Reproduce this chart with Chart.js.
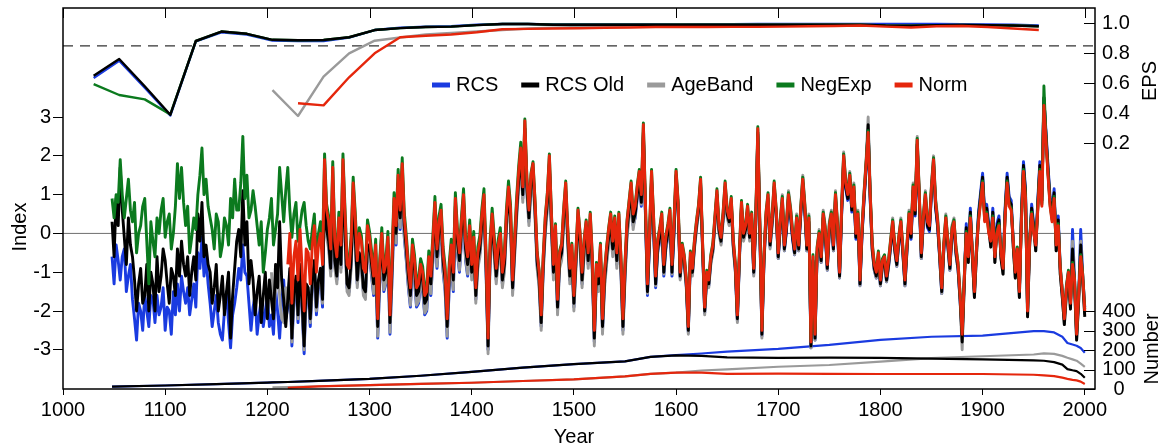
<!DOCTYPE html>
<html>
<head>
<meta charset="utf-8">
<script src="https://cdn.jsdelivr.net/npm/chart.js@4.4.0/dist/chart.umd.min.js"></script>
<style>
  html, body { margin: 0; padding: 0; background: #fff; }
  #wrap { width: 1165px; height: 448px; }
</style>
</head>
<body>
<div id="wrap"><canvas id="chrono" width="1165" height="448"></canvas></div>
<script>
// ---- data ----
const yearTicks = [1000, 1100, 1200, 1300, 1400, 1500, 1600, 1700, 1800, 1900, 2000];
const indexTicks = [-3, -2, -1, 0, 1, 2, 3];
const epsTicks = [0.2, 0.4, 0.6, 0.8, 1.0];
const numberTicks = [0, 100, 200, 300, 400];
const epsThreshold = 0.85;

// index chronologies, one value every 2 years
const indexStep = 2;
const rcsStart = 1048, rcsOldStart = 1048, negExpStart = 1048, ageBandStart = 1204, normStart = 1220;

const rcsIndex = [
  -0.6, -1.3, -0.3, -0.7, -1.2, -0.6, -0.4, -1.5, -1.1, -0.8,
  -1.7, -2.2, -2.75, -1.8, -2.0, -2.5, -1.6, -2.0, -2.4, -1.6,
  -1.7, -2.3, -1.6, -2.1, -1.9, -1.4, -2.5, -1.9, -2.0, -2.6,
  -1.5, -2.1, -1.3, -2.0, -1.1, -1.5, -1.8, -1.4, -2.1, -1.7,
  -1.3, -1.9, -0.5, -0.9, -0.1, -1.1, -0.6, -1.3, -1.8, -2.4,
  -2.0, -1.6, -2.3, -2.6, -2.75, -2.0, -1.5, -2.3, -2.95, -2.1,
  -1.8, -1.4, -0.9, -1.2, -0.3, -1.0, -1.1, -1.8, -2.5, -1.9,
  -1.6, -2.6, -2.1, -1.7, -2.4, -2.0, -1.6, -2.4, -2.1, -2.6,
  -1.4, -2.0, -2.7, -1.8, -1.2, -2.2,
  -1.9, -1.1, -2.9, -1.7, -1.3, -2.3, -1.0, -2.0, -3.1, -1.5,
  -1.6, -2.4, -1.4, -0.9, -2.1, -1.4, -1.1, -1.9, 1.3, 0.0,
  -0.3, -1.0, 1.1, -0.8, -1.2, -0.2, -0.9, 1.3, -0.1, -1.4,
  -1.5, -0.8, 0.7, -0.2, -1.3, -0.6, -0.8, -1.5, -1.6, -0.4,
  -0.6, -1.1, -1.6, -0.8, -2.7, -1.3, -0.5, -1.5, -1.3, -0.6,
  -2.6, -1.2, 0.4, -0.3, 1.0, 0.1, 1.3, -0.1, -0.7, -1.4,
  -1.9, -0.8, -1.2, -1.9, -1.8, -1.3, -1.5, -2.1, -2.0, -1.1,
  -1.6, -0.7, 0.3, -0.9, -0.2, 0.1, -1.0, -1.5, -2.7, -1.4,
  -0.8, -1.5, 0.4, -0.5, -1.0, -0.2, 0.5, -0.7, -1.1, -0.3,
  -1.1, -0.4, -1.7, -0.8, -0.5, 0.2, 0.7, -0.9, -3.0, -0.6,
  0.2, -0.5, -1.2, -0.6, -0.3, -1.3, -0.9, 0.2, 0.9, 0.3,
  -1.5, -0.5, 0.5, 1.3, 1.9, 0.9, 2.6, 1.1, 0.3, 1.2,
  1.5, 0.5, -0.8, -1.3, -2.4, -0.9, 0.1, 0.7, 1.7, 0.2,
  -1.1, -0.1, -2.0, -0.8, -0.6, 0.3, 1.0, -0.2, -1.2, -0.6,
  -1.9, -0.8, 0.3, -0.3, -1.3, -0.5, 0.0, -0.8, 0.2, -0.9,
  -2.8, -1.1, -1.4, -0.6, -2.5, -1.3, -0.7, -0.2, 0.2, -0.5,
  0.1, -0.8, 0.2, -0.9, -2.5, -1.1, 0.0, 0.5, 1.0, 0.2,
  0.4, 0.9, 1.3, 0.7, 2.5, 0.5, -1.6, -0.3, 1.3, 0.1,
  -1.4, -0.5, -0.2, 0.2, -1.1, -0.4, -0.1, 0.3, -1.1, 0.0,
  1.45, 0.65, -1.15, -0.45, -0.75, -1.35, -2.55, -0.65, -1.05, -0.35,
  0.15, 0.55, 1.25, -0.45, -2.05, -1.15, -1.35, -0.75, -0.45, 0.25,
  0.95, 0.05, -0.25, 0.35, 1.15, 0.45, 0.25, 0.75, -0.35, -0.95,
  -2.25, -0.65, 0.65, -0.15, 0.05, 0.55, -0.15, 0.35, -1.05, 0.25,
  2.55, 0.05, -2.65, -0.75, 0.35, 0.85, -0.35, 0.25, 1.15, 0.45,
  -0.65, 0.15, 0.75, -0.45, 0.05, 0.85, 0.45, -0.15, -0.55, 0.25,
  -0.45, 0.45, 1.25, 0.55, -0.45, 0.25, -2.95, -0.75, -2.75, -0.55,
  -0.15, -0.75, 0.35, -0.05, -0.95, 0.05, 0.35, -0.45, 0.85, 0.05,
  -1.15, 0.45, 1.85, 1.15, 0.85, 1.35, 0.55, 1.05, -0.15, 0.35,
  -1.35, -0.05, 0.85, 1.65, 2.7, 0.85, -0.45, -0.95, -1.15, -0.65,
  -1.35, -0.85, -0.75, -1.25, -0.85, -0.35, 0.15, -0.45, -0.85, -0.25,
  0.15, -0.55, -1.35, -0.45, 0.35, -0.15, 1.05, 0.45, 2.25, 0.85,
  -0.65, 0.25, 0.85, 0.15, 0.05, 1.05, 1.75, 0.65, 0.15, -0.65,
  -1.55, -0.45, 0.25, -0.35, -0.95, -0.05, 0.15, -0.55, -0.95, -1.75,
  -2.6, -1.2, 0.25, -0.6, 0.65, -0.5, -1.5, -0.4, 0.55, 1.05,
  1.55, 0.55, 0.75, 0.25, -0.2, 0.65, -0.6, 0.25, 0.45, -0.5,
  -0.9, 0.65, 1.55, 0.95, 0.85, -0.2, -1.0, -0.4, -1.5, 0.55,
  1.85, 1.15, -2.0, -0.2, 0.75, 0.25, -0.3, 0.85, 1.85, 0.95,
  3.45, 2.65, 1.75, 0.95, 0.55, 1.15, -0.3, 0.45, -0.9, -1.5,
  -2.2, -1.4, -1.0, -1.8, 0.1, -1.2, -2.6, -1.6, 0.1, -1.1,
  -1.9
];

const rcsOldIndex = [
  0.3, -0.6, 0.9, 0.2, 1.7, 0.6, -0.1, -0.8, 0.4, -0.3,
  -0.6, -1.2, -2.0, -1.3, -0.9, -1.8, -1.6, -0.8, -2.0, -1.0,
  -1.3, -2.0, -0.6, -1.5, -1.1, -0.4, -0.7, -1.3, -1.8, -0.9,
  -1.1, -1.6, -0.4, -1.1, -0.2, -0.8, -1.1, -0.6, -1.6, -1.0,
  -0.6, -1.2, 0.5, -0.2, 0.8, -0.6, -0.3, -0.8, -1.0, -1.8,
  -1.4, -0.8, -2.0, -1.6, -1.1, -2.1, -1.5, -1.0, -2.7, -1.6,
  -0.9, -0.2, 0.1, -0.6, 1.1, -0.3, 0.3, -1.3, -0.7, -1.2,
  -2.1, -1.5, -1.1, -2.3, -1.6, -1.0, -2.2, -1.2, -1.7, -2.2,
  -0.8, -1.4, 0.3, -1.2, -1.7, -2.4,
  -1.7, -0.9, -2.7, -1.5, -1.1, -2.1, -0.8, -1.8, -2.9, -1.3,
  -1.4, -2.2, -1.2, -0.7, -1.9, -1.2, -0.9, -1.7, 1.4, 0.1,
  -0.2, -0.9, 1.2, -0.7, -1.1, -0.1, -0.8, 1.4, 0.0, -1.3,
  -1.4, -0.7, 0.8, -0.1, -1.2, -0.5, -0.7, -1.4, -1.5, -0.3,
  -0.3, -0.8, -1.3, -0.5, -2.4, -1.0, -0.2, -1.2, -1.0, -0.3,
  -2.3, -0.9, 0.7, 0.0, 1.3, 0.4, 1.6, 0.2, -0.4, -1.1,
  -1.6, -0.5, -0.9, -1.6, -1.5, -1.0, -1.2, -1.8, -1.7, -0.8,
  -1.3, -0.4, 0.6, -0.6, 0.1, 0.4, -0.7, -1.2, -2.4, -1.1,
  -0.5, -1.2, 0.7, -0.2, -0.7, 0.1, 0.8, -0.4, -0.8, 0.0,
  -1.0, -0.3, -1.6, -0.7, -0.4, 0.3, 0.8, -0.8, -2.9, -0.5,
  0.3, -0.4, -1.1, -0.5, -0.2, -1.2, -0.8, 0.3, 1.0, 0.4,
  -1.4, -0.4, 0.6, 1.4, 2.0, 1.0, 2.7, 1.2, 0.4, 1.3,
  1.6, 0.6, -0.7, -1.2, -2.3, -0.8, 0.2, 0.8, 1.8, 0.3,
  -1.0, 0.0, -1.9, -0.7, -0.5, 0.4, 1.1, -0.1, -1.1, -0.5,
  -1.8, -0.7, 0.4, -0.2, -1.2, -0.4, 0.1, -0.7, 0.3, -0.8,
  -2.7, -1.0, -1.3, -0.5, -2.4, -1.2, -0.6, -0.1, 0.3, -0.4,
  0.2, -0.7, 0.3, -0.8, -2.4, -1.0, 0.1, 0.6, 1.1, 0.3,
  0.5, 1.0, 1.4, 0.8, 2.6, 0.6, -1.5, -0.2, 1.4, 0.2,
  -1.3, -0.4, -0.1, 0.3, -1.0, -0.3, 0.0, 0.4, -1.0, 0.1,
  1.5, 0.7, -1.1, -0.4, -0.7, -1.3, -2.5, -0.6, -1.0, -0.3,
  0.2, 0.6, 1.3, -0.4, -2.0, -1.1, -1.3, -0.7, -0.4, 0.3,
  1.0, 0.1, -0.2, 0.4, 1.2, 0.5, 0.3, 0.8, -0.3, -0.9,
  -2.2, -0.6, 0.7, -0.1, 0.1, 0.6, -0.1, 0.4, -1.0, 0.3,
  2.6, 0.1, -2.6, -0.7, 0.4, 0.9, -0.3, 0.3, 1.2, 0.5,
  -0.6, 0.2, 0.8, -0.4, 0.1, 0.9, 0.5, -0.1, -0.5, 0.3,
  -0.4, 0.5, 1.3, 0.6, -0.4, 0.3, -2.9, -0.7, -2.7, -0.5,
  -0.1, -0.7, 0.4, 0.0, -0.9, 0.1, 0.4, -0.4, 0.9, 0.1,
  -1.1, 0.5, 1.9, 1.2, 0.9, 1.4, 0.6, 1.1, -0.1, 0.4,
  -1.3, 0.0, 0.9, 1.7, 2.8, 0.9, -0.4, -0.9, -1.1, -0.6,
  -1.3, -0.8, -0.7, -1.2, -0.8, -0.3, 0.2, -0.4, -0.8, -0.2,
  0.2, -0.5, -1.3, -0.4, 0.4, -0.1, 1.1, 0.5, 2.3, 0.9,
  -0.6, 0.3, 0.9, 0.2, 0.1, 1.1, 1.8, 0.7, 0.2, -0.6,
  -1.5, -0.4, 0.3, -0.3, -0.9, 0.0, 0.2, -0.5, -0.9, -1.7,
  -2.8, -1.35, 0.15, -0.75, 0.55, -0.65, -1.65, -0.55, 0.45, 0.95,
  1.45, 0.45, 0.65, 0.15, -0.35, 0.55, -0.75, 0.15, 0.35, -0.65,
  -1.05, 0.55, 1.45, 0.85, 0.75, -0.35, -1.15, -0.55, -1.65, 0.45,
  1.75, 1.05, -2.15, -0.35, 0.65, 0.15, -0.45, 0.75, 1.75, 0.85,
  3.5, 2.55, 1.65, 0.85, 0.45, 1.05, -0.45, 0.35, -1.05, -1.65,
  -2.35, -1.55, -1.15, -1.95, -0.4, -1.35, -2.75, -1.75, -0.3, -1.25,
  -2.15
];

const negExpIndex = [
  0.9, 0.4, 1.0, 0.8, 1.9, 1.0, 0.4, 0.9, 1.4, 0.6,
  0.3, 0.8, -0.5, 0.0, 0.2, 0.7, 0.9, -0.2, -1.3, 0.3,
  -0.2, -0.6, 0.4, 0.0, 0.6, 0.9, -0.1, 0.3, 0.5, -0.4,
  0.0, 0.7, 1.8, 0.9, 1.7, 0.8, 0.2, 0.7, -0.5, -0.1,
  0.4, 0.1, 1.0, 1.5, 2.2, 1.0, 1.4, 0.7, 0.4, 0.1,
  -0.4, 0.5, 0.3, -0.6, -0.3, 0.4, 0.2, -0.3, 0.9, 0.4,
  1.4, 0.6, 0.6, 1.3, 2.5, 0.9, 1.5, 0.4, 0.6, 1.1,
  0.7, 0.2, -0.3, 0.3, -1.0, -0.5, 0.1, 0.4, 0.9, -0.3,
  0.1, 0.5, 1.7, 1.0, 0.3, 1.1,
  1.7, 0.6, -0.1, 0.5, 0.8, -0.2, 0.2, 0.6, 0.8, 0.2,
  -0.2, -0.4, 0.1, 0.5, -0.7, 0.0, 0.3, -0.4, 2.05, 0.75,
  0.45, -0.25, 1.85, -0.05, -0.45, 0.55, -0.15, 2.05, 0.65, -0.65,
  -0.75, -0.05, 1.45, 0.55, -0.55, 0.15, -0.05, -0.75, -0.85, 0.35,
  0.05, -0.45, -0.95, -0.15, -2.05, -0.65, 0.15, -0.85, -0.65, 0.05,
  -1.95, -0.55, 1.05, 0.35, 1.65, 0.75, 1.95, 0.55, -0.05, -0.75,
  -1.25, -0.15, -0.55, -1.25, -1.15, -0.65, -0.85, -1.45, -1.35, -0.45,
  -0.95, -0.05, 0.95, -0.25, 0.45, 0.75, -0.35, -0.85, -2.05, -0.75,
  -0.15, -0.85, 1.05, 0.15, -0.35, 0.45, 1.15, -0.05, -0.45, 0.35,
  -0.65, 0.05, -1.25, -0.35, -0.05, 0.65, 1.15, -0.45, -2.55, -0.15,
  0.65, -0.05, -0.75, -0.15, 0.15, -0.85, -0.45, 0.65, 1.35, 0.75,
  -1.05, -0.05, 0.95, 1.75, 2.35, 1.25, 2.95, 1.45, 0.65, 1.55,
  1.85, 0.85, -0.45, -0.95, -2.05, -0.55, 0.45, 1.05, 2.05, 0.55,
  -0.75, 0.25, -1.65, -0.45, -0.25, 0.65, 1.35, 0.15, -0.85, -0.25,
  -1.55, -0.45, 0.65, 0.05, -0.95, -0.15, 0.35, -0.45, 0.55, -0.55,
  -2.45, -0.75, -1.05, -0.25, -2.15, -0.95, -0.35, 0.15, 0.55, -0.15,
  0.45, -0.45, 0.55, -0.55, -2.15, -0.75, 0.35, 0.85, 1.35, 0.55,
  0.75, 1.25, 1.65, 1.05, 2.85, 0.85, -1.25, 0.05, 1.65, 0.45,
  -1.05, -0.15, 0.15, 0.55, -0.75, -0.05, 0.25, 0.65, -0.75, 0.35,
  1.65, 0.85, -0.95, -0.25, -0.55, -1.15, -2.35, -0.45, -0.85, -0.15,
  0.35, 0.75, 1.45, -0.25, -1.85, -0.95, -1.15, -0.55, -0.25, 0.45,
  1.15, 0.25, -0.05, 0.55, 1.35, 0.65, 0.45, 0.95, -0.15, -0.75,
  -2.05, -0.45, 0.85, 0.05, 0.25, 0.75, 0.05, 0.55, -0.85, 0.45,
  2.75, 0.25, -2.45, -0.55, 0.55, 1.05, -0.15, 0.45, 1.35, 0.65,
  -0.45, 0.35, 0.95, -0.25, 0.25, 1.05, 0.65, 0.05, -0.35, 0.45,
  -0.25, 0.65, 1.45, 0.75, -0.25, 0.45, -2.75, -0.55, -2.55, -0.35,
  0.05, -0.55, 0.55, 0.15, -0.75, 0.25, 0.55, -0.25, 1.05, 0.25,
  -0.95, 0.65, 2.05, 1.35, 1.05, 1.55, 0.75, 1.25, 0.05, 0.55,
  -1.15, 0.15, 1.05, 1.85, 2.65, 1.05, -0.25, -0.75, -0.95, -0.45,
  -1.15, -0.65, -0.55, -1.05, -0.65, -0.15, 0.35, -0.25, -0.65, -0.05,
  0.35, -0.35, -1.15, -0.25, 0.55, 0.05, 1.25, 0.65, 2.45, 1.05,
  -0.45, 0.45, 1.05, 0.35, 0.25, 1.25, 1.95, 0.85, 0.35, -0.45,
  -1.35, -0.25, 0.45, -0.15, -0.75, 0.15, 0.35, -0.35, -0.75, -1.55,
  -2.55, -1.15, 0.05, -0.55, 0.45, -0.45, -1.45, -0.35, 0.35, 0.85,
  1.35, 0.35, 0.55, 0.05, -0.15, 0.45, -0.55, 0.05, 0.25, -0.45,
  -0.85, 0.45, 1.35, 0.75, 0.65, -0.15, -0.95, -0.35, -1.45, 0.35,
  1.65, 0.95, -1.95, -0.15, 0.55, 0.05, -0.25, 0.65, 1.65, 0.75,
  3.8, 2.45, 1.55, 0.75, 0.35, 0.95, -0.25, 0.25, -0.85, -1.45,
  -2.15, -1.35, -0.95, -1.75, -0.75, -1.15, -2.55, -1.55, -0.55, -1.05,
  -1.95
];

const ageBandIndex = [
  -1.0, -2.0, -1.5, -0.8, -1.6, -2.2, -2.3, -1.4,
  -1.8, -1.0, -2.8, -1.6, -1.2, -2.2, -0.9, -1.9, -3.0, -1.4,
  -1.5, -2.3, -1.3, -0.8, -2.0, -1.3, -1.0, -1.8, 1.2, -0.1,
  -0.4, -1.1, 1.0, -0.9, -1.3, -0.3, -1.0, 1.2, -0.2, -1.5,
  -1.6, -0.9, 0.6, -0.3, -1.4, -0.7, -0.9, -1.6, -1.7, -0.5,
  -0.55, -1.05, -1.55, -0.75, -2.65, -1.25, -0.45, -1.45, -1.25, -0.55,
  -2.55, -1.15, 0.45, -0.25, 1.05, 0.15, 1.35, -0.05, -0.65, -1.35,
  -1.85, -0.75, -1.15, -1.85, -1.75, -1.25, -1.45, -2.05, -1.95, -1.05,
  -1.55, -0.65, 0.35, -0.85, -0.15, 0.15, -0.95, -1.45, -2.65, -1.35,
  -0.75, -1.45, 0.45, -0.45, -0.95, -0.15, 0.55, -0.65, -1.05, -0.25,
  -1.2, -0.5, -1.8, -0.9, -0.6, 0.1, 0.6, -1.0, -3.1, -0.7,
  0.1, -0.6, -1.3, -0.7, -0.4, -1.4, -1.0, 0.1, 0.8, 0.2,
  -1.6, -0.6, 0.4, 1.2, 1.8, 0.8, 2.5, 1.0, 0.2, 1.1,
  1.4, 0.4, -0.9, -1.4, -2.5, -1.0, 0.0, 0.6, 1.6, 0.1,
  -1.2, -0.2, -2.1, -0.9, -0.7, 0.2, 0.9, -0.3, -1.3, -0.7,
  -2.0, -0.9, 0.2, -0.4, -1.4, -0.6, -0.1, -0.9, 0.1, -1.0,
  -2.9, -1.2, -1.5, -0.7, -2.6, -1.4, -0.8, -0.3, 0.1, -0.6,
  0.0, -0.9, 0.1, -1.0, -2.6, -1.2, -0.1, 0.4, 0.9, 0.1,
  0.45, 0.95, 1.35, 0.75, 2.55, 0.55, -1.55, -0.25, 1.35, 0.15,
  -1.35, -0.45, -0.15, 0.25, -1.05, -0.35, -0.05, 0.35, -1.05, 0.05,
  1.4, 0.6, -1.2, -0.5, -0.8, -1.4, -2.6, -0.7, -1.1, -0.4,
  0.1, 0.5, 1.2, -0.5, -2.1, -1.2, -1.4, -0.8, -0.5, 0.2,
  0.9, 0.0, -0.3, 0.3, 1.1, 0.4, 0.2, 0.7, -0.4, -1.0,
  -2.3, -0.7, 0.6, -0.2, 0.0, 0.5, -0.2, 0.3, -1.1, 0.2,
  2.5, 0.0, -2.7, -0.8, 0.3, 0.8, -0.4, 0.2, 1.1, 0.4,
  -0.65, 0.4, 1.0, -0.45, 0.3, 1.1, 0.7, 0.1, -0.55, 0.5,
  -0.45, 0.7, 1.5, 0.8, -0.45, 0.5, -2.95, -0.75, -2.75, -0.55,
  0.1, -0.75, 0.6, 0.2, -0.95, 0.3, 0.6, -0.45, 1.1, 0.3,
  -1.15, 0.7, 2.1, 1.4, 1.1, 1.6, 0.8, 1.3, 0.1, 0.6,
  -1.35, 0.2, 1.1, 1.9, 3.0, 1.1, -0.45, -0.95, -1.15, -0.65,
  -1.35, -0.85, -0.75, -1.25, -0.85, -0.35, 0.4, -0.45, -0.85, -0.25,
  0.4, -0.55, -1.35, -0.45, 0.6, 0.1, 1.3, 0.7, 2.5, 1.1,
  -0.65, 0.5, 1.1, 0.4, 0.3, 1.3, 2.0, 0.9, 0.4, -0.65,
  -1.55, -0.45, 0.5, -0.35, -0.95, 0.2, 0.4, -0.55, -0.95, -1.75,
  -3.0, -1.35, 0.1, -0.75, 0.5, -0.65, -1.65, -0.55, 0.4, 0.9,
  1.4, 0.4, 0.6, 0.1, -0.35, 0.5, -0.75, 0.1, 0.3, -0.65,
  -1.05, 0.5, 1.4, 0.8, 0.7, -0.35, -1.15, -0.55, -1.65, 0.4,
  1.7, 1.0, -2.15, -0.35, 0.6, 0.1, -0.45, 0.7, 1.7, 0.8,
  3.5, 2.5, 1.6, 0.8, 0.4, 1.0, -0.45, 0.3, -1.05, -1.65,
  -2.35, -1.55, -1.15, -1.95, -0.2, -1.35, -2.75, -1.75, -0.2, -1.25,
  -2.1
];

const normIndex = [
  -0.8, 0.0, -1.8, -0.6, -0.2, -1.2, 0.1, -0.9, -2.0, -0.4,
  -0.5, -1.3, -0.3, 0.2, -1.0, -0.3, 0.0, -0.8, 1.9, 0.6,
  0.3, -0.4, 1.7, -0.2, -0.6, 0.4, -0.3, 1.9, 0.5, -0.8,
  -0.9, -0.2, 1.3, 0.4, -0.7, 0.0, -0.2, -0.9, -1.0, 0.2,
  -0.1, -0.6, -1.1, -0.3, -2.2, -0.8, 0.0, -1.0, -0.8, -0.1,
  -2.1, -0.7, 0.9, 0.2, 1.5, 0.6, 1.8, 0.4, -0.2, -0.9,
  -1.4, -0.3, -0.7, -1.4, -1.3, -0.8, -1.0, -1.6, -1.5, -0.6,
  -1.1, -0.2, 0.8, -0.4, 0.3, 0.6, -0.5, -1.0, -2.2, -0.9,
  -0.3, -1.0, 0.9, 0.0, -0.5, 0.3, 1.0, -0.2, -0.6, 0.2,
  -0.8, -0.1, -1.4, -0.5, -0.2, 0.5, 1.0, -0.6, -2.7, -0.3,
  0.5, -0.2, -0.9, -0.3, 0.0, -1.0, -0.6, 0.5, 1.2, 0.6,
  -1.2, -0.2, 0.8, 1.6, 2.2, 1.2, 2.9, 1.4, 0.6, 1.5,
  1.8, 0.8, -0.5, -1.0, -2.1, -0.6, 0.4, 1.0, 2.0, 0.5,
  -0.8, 0.2, -1.7, -0.5, -0.3, 0.6, 1.3, 0.1, -0.9, -0.3,
  -1.6, -0.5, 0.6, 0.0, -1.0, -0.2, 0.3, -0.5, 0.5, -0.6,
  -2.5, -0.8, -1.1, -0.3, -2.2, -1.0, -0.4, 0.1, 0.5, -0.2,
  0.4, -0.5, 0.5, -0.6, -2.2, -0.8, 0.3, 0.8, 1.3, 0.5,
  0.7, 1.2, 1.6, 1.0, 2.8, 0.8, -1.3, 0.0, 1.6, 0.4,
  -1.1, -0.2, 0.1, 0.5, -0.8, -0.1, 0.2, 0.6, -0.8, 0.3,
  1.6, 0.8, -1.0, -0.3, -0.6, -1.2, -2.4, -0.5, -0.9, -0.2,
  0.3, 0.7, 1.4, -0.3, -1.9, -1.0, -1.2, -0.6, -0.3, 0.4,
  1.1, 0.2, -0.1, 0.5, 1.3, 0.6, 0.4, 0.9, -0.2, -0.8,
  -2.1, -0.5, 0.8, 0.0, 0.2, 0.7, 0.0, 0.5, -0.9, 0.4,
  2.7, 0.2, -2.5, -0.6, 0.5, 1.0, -0.2, 0.4, 1.3, 0.6,
  -0.5, 0.3, 0.9, -0.3, 0.2, 1.0, 0.6, 0.0, -0.4, 0.4,
  -0.3, 0.6, 1.4, 0.7, -0.3, 0.4, -2.8, -0.6, -2.6, -0.4,
  0.0, -0.6, 0.5, 0.1, -0.8, 0.2, 0.5, -0.3, 1.0, 0.2,
  -1.0, 0.6, 2.0, 1.3, 1.0, 1.5, 0.7, 1.2, 0.0, 0.5,
  -1.2, 0.1, 1.0, 1.8, 2.6, 1.0, -0.3, -0.8, -1.0, -0.5,
  -1.2, -0.7, -0.6, -1.1, -0.7, -0.2, 0.3, -0.3, -0.7, -0.1,
  0.3, -0.4, -1.2, -0.3, 0.5, 0.0, 1.2, 0.6, 2.4, 1.0,
  -0.5, 0.4, 1.0, 0.3, 0.2, 1.2, 1.9, 0.8, 0.3, -0.5,
  -1.4, -0.3, 0.4, -0.2, -0.8, 0.1, 0.3, -0.4, -0.8, -1.6,
  -2.6, -1.2, 0.0, -0.6, 0.4, -0.5, -1.5, -0.4, 0.3, 0.8,
  1.3, 0.3, 0.5, 0.0, -0.2, 0.4, -0.6, 0.0, 0.2, -0.5,
  -0.9, 0.4, 1.3, 0.7, 0.6, -0.2, -1.0, -0.4, -1.5, 0.3,
  1.6, 0.9, -2.0, -0.2, 0.5, 0.0, -0.3, 0.6, 1.6, 0.7,
  3.3, 2.4, 1.5, 0.7, 0.3, 0.9, -0.3, 0.2, -0.9, -1.5,
  -2.2, -1.4, -1.0, -1.8, -0.8, -1.2, -2.6, -1.6, -0.6, -1.1,
  -2.0
];

// expressed population signal, 50-yr windows lagged 25 yrs
const epsYears = [1030, 1055, 1080, 1105, 1130, 1155, 1180, 1205, 1230, 1255,
  1280, 1305, 1330, 1355, 1380, 1405, 1430, 1455, 1480, 1505,
  1530, 1555, 1580, 1605, 1630, 1655, 1680, 1705, 1730, 1755,
  1780, 1805, 1830, 1855, 1880, 1905, 1930, 1955];
const rcsEps = [0.635, 0.75, 0.57, 0.385, 0.88, 0.94, 0.925, 0.885, 0.882, 0.882,
  0.905, 0.955, 0.97, 0.977, 0.98, 0.99, 0.995, 0.995, 0.992, 0.992,
  0.992, 0.993, 0.993, 0.993, 0.994, 0.994, 0.995, 0.995, 0.996, 0.996,
  0.996, 0.995, 0.995, 0.995, 0.994, 0.993, 0.99, 0.985];
const rcsOldEps = [0.65, 0.762, 0.58, 0.39, 0.882, 0.945, 0.93, 0.89, 0.887, 0.889,
  0.907, 0.955, 0.968, 0.975, 0.978, 0.988, 0.995, 0.995, 0.99, 0.99,
  0.99, 0.99, 0.99, 0.99, 0.99, 0.99, 0.99, 0.99, 0.99, 0.99,
  0.99, 0.985, 0.984, 0.987, 0.989, 0.988, 0.985, 0.98];
const negExpEps = [0.595, 0.522, 0.493, 0.393, 0.882, 0.945, 0.93, 0.89, 0.887, 0.889,
  0.907, 0.955, 0.968, 0.975, 0.978, 0.988, 0.995, 0.995, 0.99, 0.99,
  0.99, 0.99, 0.99, 0.99, 0.99, 0.99, 0.99, 0.99, 0.99, 0.99,
  0.99, 0.985, 0.984, 0.987, 0.989, 0.988, 0.985, 0.98];
const ageBandEps = [null, null, null, null, null, null, null, 0.555, 0.382, 0.644,
  0.80, 0.884, 0.905, 0.925, 0.935, 0.945, 0.955, 0.965, 0.97, 0.975,
  0.98, 0.985, 0.988, 0.99, 0.99, 0.99, 0.99, 0.99, 0.99, 0.99,
  0.99, 0.985, 0.984, 0.987, 0.989, 0.988, 0.985, 0.98];
const normEps = [null, null, null, null, null, null, null, null, 0.467, 0.453,
  0.64, 0.80, 0.907, 0.917, 0.925, 0.94, 0.96, 0.963, 0.965, 0.967,
  0.97, 0.972, 0.975, 0.975, 0.975, 0.976, 0.976, 0.978, 0.98, 0.982,
  0.985, 0.978, 0.972, 0.98, 0.982, 0.975, 0.965, 0.955];

// sample depth
const numberYears = [1048, 1100, 1150, 1200, 1205, 1220, 1250, 1300, 1350, 1400,
  1450, 1500, 1550, 1575, 1600, 1625, 1650, 1700, 1750, 1800,
  1850, 1900, 1950, 1960, 1970, 1978, 1983, 1988, 1992, 1996, 2000];
const rcsNumber = [12, 18, 25, 33, 34, 36, 42, 52, 68, 88,
  110, 128, 142, 165, 174, 182, 192, 206, 226, 252,
  268, 274, 297, 297, 290, 268, 236, 228, 222, 210, 186];
const rcsOldNumber = [12, 18, 25, 33, 34, 36, 42, 52, 68, 88,
  110, 128, 142, 165, 172, 170, 162, 160, 161, 160,
  156, 152, 147, 145, 138, 125, 102, 96, 92, 78, 58];
const ageBandNumber = [null, null, null, null, 8, 10, 14, 20, 26, 32,
  41, 49, 65, 78, 84, 95, 101, 114, 123, 140,
  158, 168, 177, 183, 180, 170, 160, 152, 145, 130, 114];
const normNumber = [null, null, null, null, null, 6, 13, 20, 26, 32,
  41, 49, 65, 78, 84, 84, 78, 79, 78, 77,
  77, 77, 73, 70, 66, 58, 52, 47, 44, 38, 26];

const seriesNames = ['RCS', 'RCS Old', 'AgeBand', 'NegExp', 'Norm'];
const seriesColors = ['#1a3be0', '#000000', '#9a9a9a', '#0b7a1e', '#e5260c'];

// ---- helpers ----
function stepped(start, values) {
  return values.map((v, i) => ({ x: start + indexStep * i, y: v }));
}
function paired(years, values) {
  return years.map((yr, i) => ({ x: yr, y: values[i] }));
}
function lineSet(data, axis, color, width, order) {
  return { data: data, yAxisID: axis, borderColor: color, borderWidth: width,
    pointRadius: 0, tension: 0, borderJoinStyle: 'round', order: order, spanGaps: false };
}
function noEdgePadding(sc) { sc.paddingTop = 0; sc.paddingBottom = 0; }

const FONT = '"Liberation Sans", Arial, Helvetica, sans-serif';
Chart.defaults.font.family = FONT;
Chart.defaults.font.size = 20;
Chart.defaults.color = '#000';

// titles, frame, inward ticks, Number axis and legend
const decorations = {
  id: 'decorations',
  afterDraw(chart) {
    const ctx = chart.ctx, a = chart.chartArea, s = chart.scales;
    ctx.save();
    ctx.strokeStyle = '#000';
    ctx.lineWidth = 1;
    ctx.beginPath();
    yearTicks.forEach(v => {
      const x = Math.round(s.x.getPixelForValue(v)) + 0.5;
      ctx.moveTo(x, a.top); ctx.lineTo(x, a.top + 10);
    });
    epsTicks.forEach(v => {
      const y = Math.round(s.yEps.getPixelForValue(v)) + 0.5;
      ctx.moveTo(a.right - 11, y); ctx.lineTo(a.right, y);
    });
    numberTicks.forEach(v => {
      const y = Math.round(s.yNum.getPixelForValue(v)) + 0.5;
      ctx.moveTo(a.right - 11, y); ctx.lineTo(a.right, y);
    });
    ctx.stroke();

    ctx.lineWidth = 1.5;
    ctx.strokeRect(a.left, a.top, a.right - a.left, a.bottom - a.top);

    ctx.fillStyle = '#000';
    ctx.font = '20px ' + FONT;
    ctx.textAlign = 'center';
    ctx.textBaseline = 'middle';
    numberTicks.forEach(v => {
      ctx.fillText(String(v), a.right + 24, s.yNum.getPixelForValue(v));
    });

    ctx.fillText('Year', 574, 437);
    const vtext = (t, x, y) => {
      ctx.save(); ctx.translate(x, y); ctx.rotate(-Math.PI / 2);
      ctx.fillText(t, 0, 0); ctx.restore();
    };
    vtext('Index', 20, 227);
    vtext('EPS', 1150, 81);
    vtext('Number', 1152, 349);

    // legend
    let x = 432;
    const ly = 85;
    ctx.textAlign = 'left';
    seriesNames.forEach((name, i) => {
      ctx.strokeStyle = seriesColors[i];
      ctx.lineWidth = 5;
      ctx.beginPath(); ctx.moveTo(x, ly); ctx.lineTo(x + 18, ly); ctx.stroke();
      ctx.fillText(name, x + 24, ly);
      x += 24 + ctx.measureText(name).width + 23;
    });
    ctx.restore();
  }
};

const datasets = [
  // index chronologies (lower order is drawn on top)
  lineSet(stepped(normStart, normIndex), 'yIndex', seriesColors[4], 2.9, 1),
  lineSet(stepped(negExpStart, negExpIndex), 'yIndex', seriesColors[3], 2.9, 2),
  lineSet(stepped(rcsOldStart, rcsOldIndex), 'yIndex', seriesColors[1], 2.9, 3),
  lineSet(stepped(ageBandStart, ageBandIndex), 'yIndex', seriesColors[2], 2.9, 4),
  lineSet(stepped(rcsStart, rcsIndex), 'yIndex', seriesColors[0], 2.9, 5),
  // EPS
  lineSet(paired(epsYears, normEps), 'yEps', seriesColors[4], 2.4, 6),
  lineSet(paired(epsYears, rcsOldEps), 'yEps', seriesColors[1], 2.4, 7),
  lineSet(paired(epsYears, negExpEps), 'yEps', seriesColors[3], 2.4, 8),
  lineSet(paired(epsYears, ageBandEps), 'yEps', seriesColors[2], 2.4, 9),
  lineSet(paired(epsYears, rcsEps), 'yEps', seriesColors[0], 2.4, 10),
  // sample depth
  lineSet(paired(numberYears, normNumber), 'yNum', seriesColors[4], 2.2, 11),
  lineSet(paired(numberYears, rcsOldNumber), 'yNum', seriesColors[1], 2.2, 12),
  lineSet(paired(numberYears, ageBandNumber), 'yNum', seriesColors[2], 2.2, 13),
  lineSet(paired(numberYears, rcsNumber), 'yNum', seriesColors[0], 2.2, 14),
  // reference lines
  Object.assign(lineSet([{ x: 1000, y: epsThreshold }, { x: 2010, y: epsThreshold }], 'yEps', '#333', 1.2, 19),
    { borderDash: [10, 7] }),
  lineSet([{ x: 1000, y: 0 }, { x: 2010, y: 0 }], 'yIndex', '#6e6e6e', 1, 20)
];

new Chart(document.getElementById('chrono'), {
  type: 'line',
  data: { datasets: datasets },
  options: {
    responsive: false,
    devicePixelRatio: 1,
    animation: false,
    layout: { autoPadding: false, padding: { top: 8, left: 0, right: 0, bottom: 0 } },
    plugins: { legend: { display: false }, tooltip: { enabled: false } },
    scales: {
      x: {
        type: 'linear', position: 'bottom', min: 1000, max: 2010,
        afterBuildTicks: sc => { sc.ticks = yearTicks.map(v => ({ value: v })); },
        afterFit: sc => { sc.height = 59; sc.paddingLeft = 0; sc.paddingRight = 0; },
        grid: { drawOnChartArea: false, tickLength: 6, color: '#000' },
        border: { display: false },
        ticks: { padding: 3, maxRotation: 0, autoSkip: false, callback: v => String(v) }
      },
      yIndex: {
        position: 'left', min: -4.01, max: 5.81,
        afterBuildTicks: sc => { sc.ticks = indexTicks.map(v => ({ value: v })); },
        afterFit: sc => { sc.width = 63; noEdgePadding(sc); },
        grid: { drawOnChartArea: false, tickLength: 10, color: '#000' },
        border: { display: false },
        ticks: { padding: 2, callback: v => String(v) }
      },
      yEps: {
        position: 'right', min: -1.438, max: 1.102,
        afterBuildTicks: sc => { sc.ticks = epsTicks.map(v => ({ value: v })); },
        afterFit: sc => { sc.width = 70; noEdgePadding(sc); },
        grid: { display: false, drawTicks: false },
        border: { display: false },
        ticks: { padding: 7, callback: v => v.toFixed(1) }
      },
      yNum: { position: 'right', display: false, min: 0, max: 1954 }
    }
  },
  plugins: [decorations]
});
</script>
</body>
</html>
